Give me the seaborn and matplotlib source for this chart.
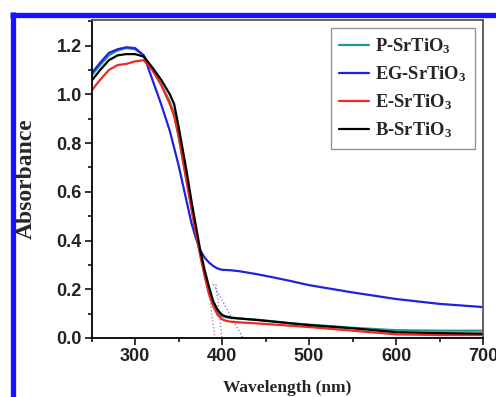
import numpy as np
import pandas as pd
import matplotlib
matplotlib.use("Agg")
import matplotlib.pyplot as plt
from matplotlib.lines import Line2D
from matplotlib.ticker import MultipleLocator
import seaborn as sns

# ---------------- data ----------------
wavelength = [250, 260, 270, 280, 290, 300, 310, 320, 330, 340, 345, 350, 355,
              360, 365, 370, 375, 380, 385, 390, 395, 400, 405, 410, 420, 440,
              460, 480, 500, 550, 600, 650, 700]

p_srtio3 = [1.077, 1.12, 1.16, 1.18, 1.19, 1.185, 1.16, 1.10, 1.04, 0.97, 0.92,
            0.83, 0.73, 0.63, 0.53, 0.43, 0.34, 0.26, 0.19, 0.14, 0.105, 0.09,
            0.085, 0.082, 0.08, 0.075, 0.068, 0.06, 0.055, 0.042, 0.032, 0.03, 0.03]

eg_srtio3 = [1.085, 1.13, 1.17, 1.185, 1.193, 1.19, 1.16, 1.06, 0.96, 0.85, 0.78,
             0.71, 0.63, 0.55, 0.47, 0.41, 0.36, 0.33, 0.31, 0.295, 0.285, 0.28,
             0.279, 0.278, 0.274, 0.262, 0.248, 0.233, 0.217, 0.187, 0.160, 0.14, 0.127]

e_srtio3 = [1.015, 1.06, 1.10, 1.12, 1.125, 1.135, 1.14, 1.10, 1.04, 0.96, 0.91,
            0.83, 0.73, 0.63, 0.53, 0.43, 0.34, 0.255, 0.18, 0.13, 0.095, 0.077,
            0.07, 0.067, 0.064, 0.06, 0.055, 0.05, 0.045, 0.03, 0.015, 0.012, 0.012]

b_srtio3 = [1.055, 1.10, 1.14, 1.16, 1.165, 1.165, 1.155, 1.11, 1.06, 1.00, 0.96,
            0.87, 0.77, 0.67, 0.56, 0.46, 0.36, 0.28, 0.21, 0.15, 0.115, 0.095,
            0.088, 0.084, 0.08, 0.074, 0.067, 0.06, 0.053, 0.04, 0.024, 0.02, 0.018]

series_names = ["P-SrTiO$_3$", "EG-SrTiO$_3$", "E-SrTiO$_3$", "B-SrTiO$_3$"]
series_colors = ["#1f9a88", "#2222dd", "#ee2a22", "#000000"]

# tangent (band-edge extrapolation) dotted lines
tangent_x = [[384.5, 392.0], [393.0, 400.0], [390.0, 424.0]]
tangent_y = [[0.20, 0.0], [0.22, 0.0], [0.22, 0.0]]
tangent_colors = ["#e08080", "#9090bb", "#8080dd"]

x_ticks = [300, 400, 500, 600, 700]
y_ticks = [0.0, 0.2, 0.4, 0.6, 0.8, 1.0, 1.2]

# ---------------- style ----------------
sns.set_theme(style="ticks")
plt.rcParams["font.family"] = ["Liberation Serif", "DejaVu Serif"]
plt.rcParams["mathtext.fontset"] = "custom"
plt.rcParams["mathtext.rm"] = "Liberation Serif:bold"
plt.rcParams["mathtext.default"] = "rm"

df = pd.DataFrame({
    "Wavelength": wavelength * 4,
    "Absorbance": p_srtio3 + eg_srtio3 + e_srtio3 + b_srtio3,
    "Sample": sum([[n] * len(wavelength) for n in series_names], []),
})

fig = plt.figure(figsize=(4.96, 3.97), dpi=100)
ax = fig.add_axes([91.5 / 496, 59 / 397, (483 - 91.5) / 496, (338 - 20) / 397])

for tx, ty, tc in zip(tangent_x, tangent_y, tangent_colors):
    ax.plot(tx, ty, linestyle=(0, (1, 1.5)), color=tc, lw=1.0, zorder=1)

sns.lineplot(data=df, x="Wavelength", y="Absorbance", hue="Sample",
             hue_order=series_names, palette=series_colors, lw=1.6,
             sort=False, ax=ax, zorder=2)

ax.set_xlim(250, 700)
ax.set_ylim(0, 1.305)
ax.set_xticks(x_ticks)
ax.set_yticks(y_ticks)
ax.set_yticklabels([f"{v:.1f}" for v in y_ticks])
ax.xaxis.set_minor_locator(MultipleLocator(50))
ax.yaxis.set_minor_locator(MultipleLocator(0.1))
ax.tick_params(which="major", direction="out", length=5, width=1.1, pad=2,
               labelsize=13, color="black")
ax.tick_params(which="minor", direction="out", length=3, width=1.1, color="black")
for lab in ax.get_xticklabels() + ax.get_yticklabels():
    lab.set_fontfamily(["Liberation Sans", "DejaVu Sans"])
    lab.set_fontweight("bold")
    lab.set_color("#222222")

for s in ["left", "bottom"]:
    ax.spines[s].set_linewidth(1.3)
    ax.spines[s].set_color("black")
for s in ["top", "right"]:
    ax.spines[s].set_visible(True)
    ax.spines[s].set_linewidth(1.3)
    ax.spines[s].set_color("#555555")

ax.set_xlabel("Wavelength (nm)", fontsize=12.5, fontweight="bold", labelpad=11)
ax.set_ylabel("Absorbance", fontsize=17, fontweight="bold", labelpad=14)

handles, labels = ax.get_legend_handles_labels()
leg = ax.legend(handles, labels, loc="upper right",
                prop={"weight": "bold", "size": 13.3, "family": "Liberation Serif"},
                frameon=True, fancybox=False, edgecolor="#777777",
                handlelength=1.65, handletextpad=0.3, labelspacing=0.45,
                borderpad=0.45, borderaxespad=0.45)
leg.get_frame().set_linewidth(1.0)
for h in leg.get_lines():
    h.set_linewidth(1.6)

# blue page frame
fig.add_artist(Line2D([10 / 496, 1.0], [1 - 14.5 / 397, 1 - 14.5 / 397],
                      transform=fig.transFigure, color="#1414ff", lw=3.8,
                      solid_capstyle="butt"))
fig.add_artist(Line2D([12.5 / 496, 12.5 / 496], [1 - 12 / 397, 0.0],
                      transform=fig.transFigure, color="#1414ff", lw=3.8,
                      solid_capstyle="butt"))

fig.savefig("out.png", dpi=100)
